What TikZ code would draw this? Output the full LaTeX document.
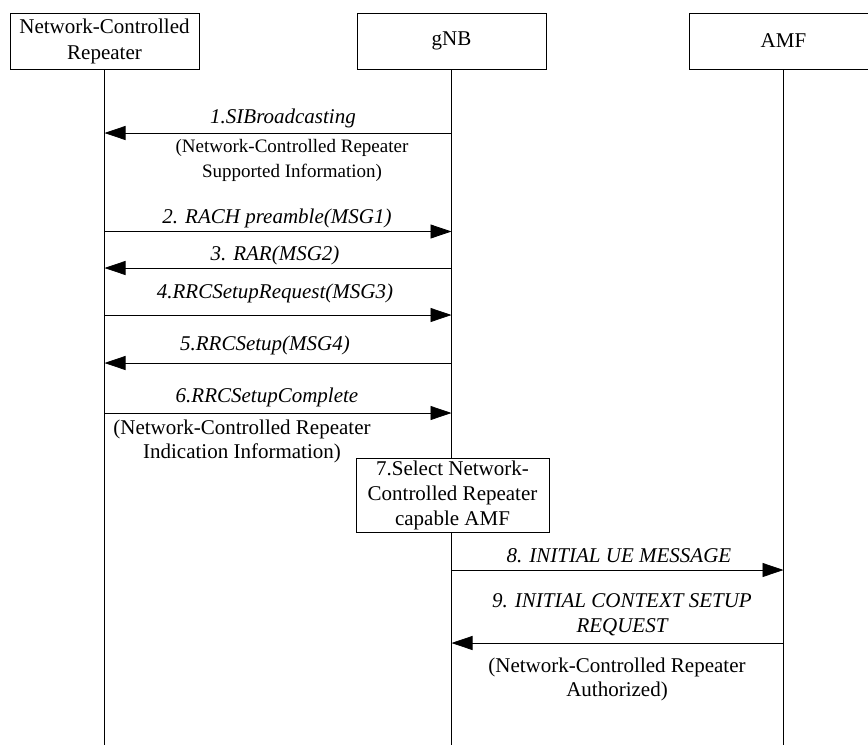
\documentclass[tikz,border=0pt]{standalone}
\usepackage{fontspec}
\setmainfont{Liberation Serif}
\usetikzlibrary{arrows.meta}
\begin{document}
\begin{tikzpicture}[x=1pt,y=-1pt]
\tikzset{
  actor/.style={draw, line width=0.8pt, fill=white, minimum width=189pt, minimum height=56pt,
    font=\fontsize{21}{26}\selectfont, align=center, inner sep=0pt},
  stepbox/.style={draw, line width=0.8pt, fill=white, minimum width=193pt, minimum height=74pt,
    font=\fontsize{21}{25}\selectfont, align=center, inner sep=0pt},
  msg/.style={font=\fontsize{21}{25}\selectfont\itshape, align=center, inner sep=0pt},
  note/.style={font=\fontsize{21}{24}\selectfont, align=center, inner sep=0pt},
  smallnote/.style={font=\fontsize{19}{25}\selectfont, align=center, inner sep=0pt},
  life/.style={line width=0.8pt},
  arr/.style={line width=0.8pt, -{Triangle[length=21pt,width=14pt]}}
}
\useasboundingbox (0,0) rectangle (868,745);
\clip (0,0) rectangle (868,745);

% actors
\node[actor] (ncr) at (104.5,41) {Network-Controlled\\Repeater};
\node[actor] (gnb) at (451.5,41) {gNB};
\node[actor] (amf) at (783.5,41) {AMF};

% lifeline ends
\coordinate (ncrE) at (104.5,745);
\coordinate (gnbE) at (451.5,745);
\coordinate (amfE) at (783.5,745);
\draw[life] (ncr.south) -- (ncrE);
\draw[life] (gnb.south) -- (gnbE);
\draw[life] (amf.south) -- (amfE);

% message end points
\coordinate (g1) at (451.5,133);   \coordinate (n1) at (104.5,133);
\coordinate (n2) at (104.5,231.5); \coordinate (g2) at (451.5,231.5);
\coordinate (g3) at (451.5,268);   \coordinate (n3) at (104.5,268);
\coordinate (n4) at (104.5,315);   \coordinate (g4) at (451.5,315);
\coordinate (g5) at (451.5,363);   \coordinate (n5) at (104.5,363);
\coordinate (n6) at (104.5,413);   \coordinate (g6) at (451.5,413);
\coordinate (g8) at (451.5,570);   \coordinate (a8) at (783.5,570);
\coordinate (a9) at (783.5,643);   \coordinate (g9) at (451.5,643);

\draw[arr] (g1) -- (n1);
\draw[arr] (n2) -- (g2);
\draw[arr] (g3) -- (n3);
\draw[arr] (n4) -- (g4);
\draw[arr] (g5) -- (n5);
\draw[arr] (n6) -- (g6);
\draw[arr] (g8) -- (a8);
\draw[arr] (a9) -- (g9);

% labels
\node[msg] (l1) at (283,118) {1.SIBroadcasting};
\node[smallnote] (t1) at (292,160.5) {(Network-Controlled Repeater\\Supported Information)};
\node[msg] (l2) at (277,218) {2. RACH preamble(MSG1)};
\node[msg] (l3) at (275,255) {3. RAR(MSG2)};
\node[msg] (l4) at (275,293) {4.RRCSetupRequest(MSG3)};
\node[msg] (l5) at (265,345) {5.RRCSetup(MSG4)};
\node[msg] (l6) at (267,397) {6.RRCSetupComplete};
\node[note] (t6) at (242,441.5) {(Network-Controlled Repeater\\Indication Information)};

\node[stepbox] (s7) at (452.5,495) {7.Select Network-\\Controlled Repeater\\capable AMF};

\node[msg] (l8) at (619,556) {8. INITIAL UE MESSAGE};
\node[msg] (l9) at (622,614.5) {9. INITIAL CONTEXT SETUP\\REQUEST};
\node[note] (t9) at (617,679) {(Network-Controlled Repeater\\Authorized)};
\end{tikzpicture}
\end{document}
